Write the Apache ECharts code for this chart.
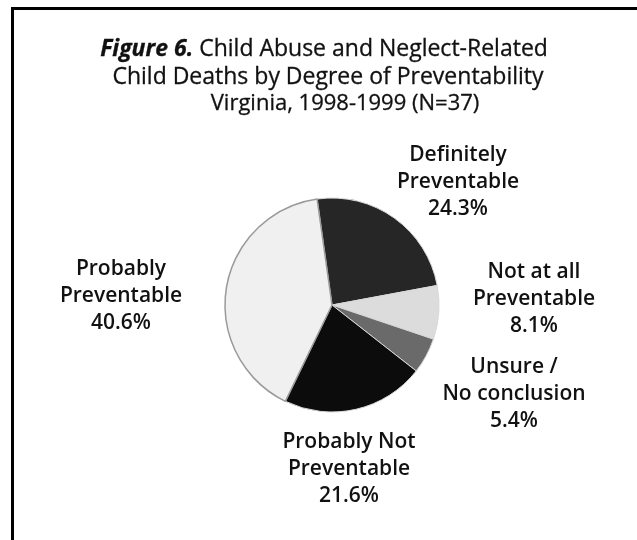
<!DOCTYPE html>
<html>
<head>
<meta charset="utf-8">
<script src="https://cdn.jsdelivr.net/npm/echarts@6/dist/echarts.min.js"></script>
<style>
  html, body { margin: 0; padding: 0; background: #fff; }
  #chart { width: 637px; height: 540px; }
</style>
</head>
<body>
<div id="chart"></div>
<script>
// categories in drawing order (clockwise from just left of 12 o'clock)
const categories = [
  'Definitely\nPreventable',
  'Not at all\nPreventable',
  'Unsure /\nNo conclusion',
  'Probably Not\nPreventable',
  'Probably\nPreventable'
]
const percents = [24.3, 8.1, 5.4, 21.6, 40.6]

const sliceColors = ['#262626', '#dcdcdc', '#6a6a6a', '#0c0c0c', '#f0f0f0']
// label centres (px)
const labelPos = [[458, 182], [534, 299], [514, 394], [349, 469], [121, 296]]

const font = '"Open Sans", "Noto Sans", sans-serif'
const titleText = { fontFamily: font, fontSize: 23, fontWeight: 'normal', color: '#111', textBorderColor: '#111', textBorderWidth: 0.3 }

const myChart = echarts.init(document.getElementById('chart'))

myChart.setOption({
  backgroundColor: '#fff',
  animation: false,
  title: [
    {
      text: '{b|Figure 6.} Child Abuse and Neglect-Related',
      left: 319,
      top: 33,
      textAlign: 'center',
      textStyle: Object.assign({}, titleText, {
        rich: {
          b: { fontFamily: font, fontSize: 23, fontWeight: 'bold', fontStyle: 'italic', color: '#111' }
        }
      })
    },
    {
      text: 'Child Deaths by Degree of Preventability',
      left: 323,
      top: 61,
      textAlign: 'center',
      textStyle: titleText
    },
    {
      text: 'Virginia, 1998-1999 (N=37)',
      left: 340,
      top: 88,
      textAlign: 'center',
      textStyle: Object.assign({}, titleText, { fontSize: 22 })
    }
  ],
  graphic: [
    // frame: top and left edges only
    { type: 'rect', shape: { x: 11, y: 7, width: 626, height: 3 }, style: { fill: '#000' } },
    { type: 'rect', shape: { x: 11, y: 7, width: 3, height: 533 }, style: { fill: '#000' } }
  ],
  series: [
    {
      type: 'pie',
      center: [332, 305],
      radius: [0, 107],
      startAngle: 98,
      clockwise: true,
      itemStyle: {
        borderColor: '#d8d8d8',
        borderWidth: 1
      },
      label: {
        show: true,
        position: 'outside',
        formatter: (p) => p.name + '\n' + p.value.toFixed(1) + '%',
        fontFamily: font,
        fontSize: 21,
        fontWeight: 600,
        lineHeight: 27,
        color: '#111',
        align: 'center'
      },
      labelLine: { show: false },
      labelLayout: (params) => {
        const pos = labelPos[params.dataIndex]
        return { x: pos[0], y: pos[1], align: 'center', verticalAlign: 'middle' }
      },
      data: categories.map((name, i) => ({
        name: name,
        value: percents[i],
        itemStyle: i === 4
          ? { color: sliceColors[i], borderColor: '#9a9a9a', borderWidth: 1.5 }
          : { color: sliceColors[i] }
      }))
    }
  ]
})
</script>
</body>
</html>
